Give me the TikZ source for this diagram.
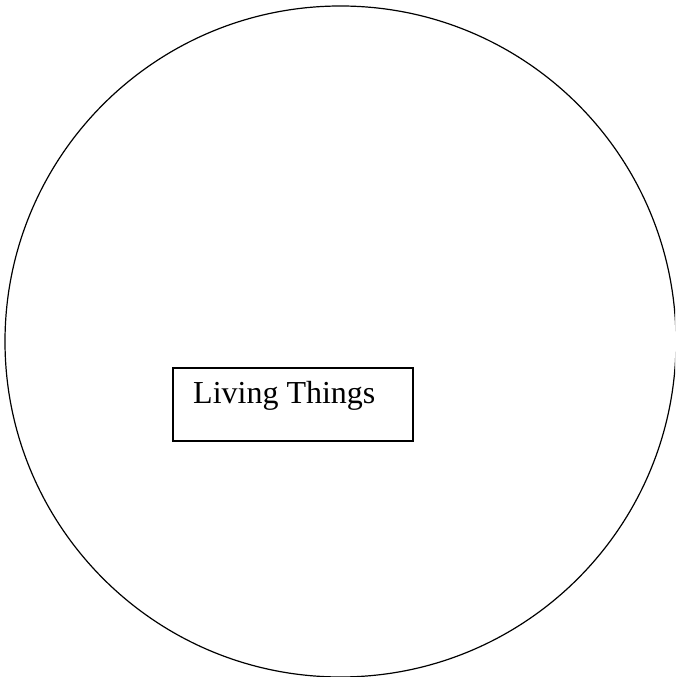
\documentclass[tikz,border=0pt]{standalone}
\usepackage{fontspec}
\setmainfont{Liberation Serif}
\tikzset{
  outline/.style={draw=black, line width=1.2pt},
  labelbox/.style={draw=black, line width=1.2pt, minimum width=240pt, minimum height=73pt, inner sep=0pt},
  labeltext/.style={anchor=base west, inner sep=0pt, font=\fontsize{32}{38}\selectfont}
}
\begin{document}
\begin{tikzpicture}[x=1pt,y=1pt]
\useasboundingbox (0,0) rectangle (675,677);
\begin{scope}
\clip (0,0) rectangle (675,677);
\node[outline, circle, minimum size=671pt, inner sep=0pt] (world) at (340.5,335.5) {};
\end{scope}
\node[labelbox] (box) at (293,272.5) {};
\node[labeltext] (txt) at (193,273) {Living Things};
\end{tikzpicture}
\end{document}
